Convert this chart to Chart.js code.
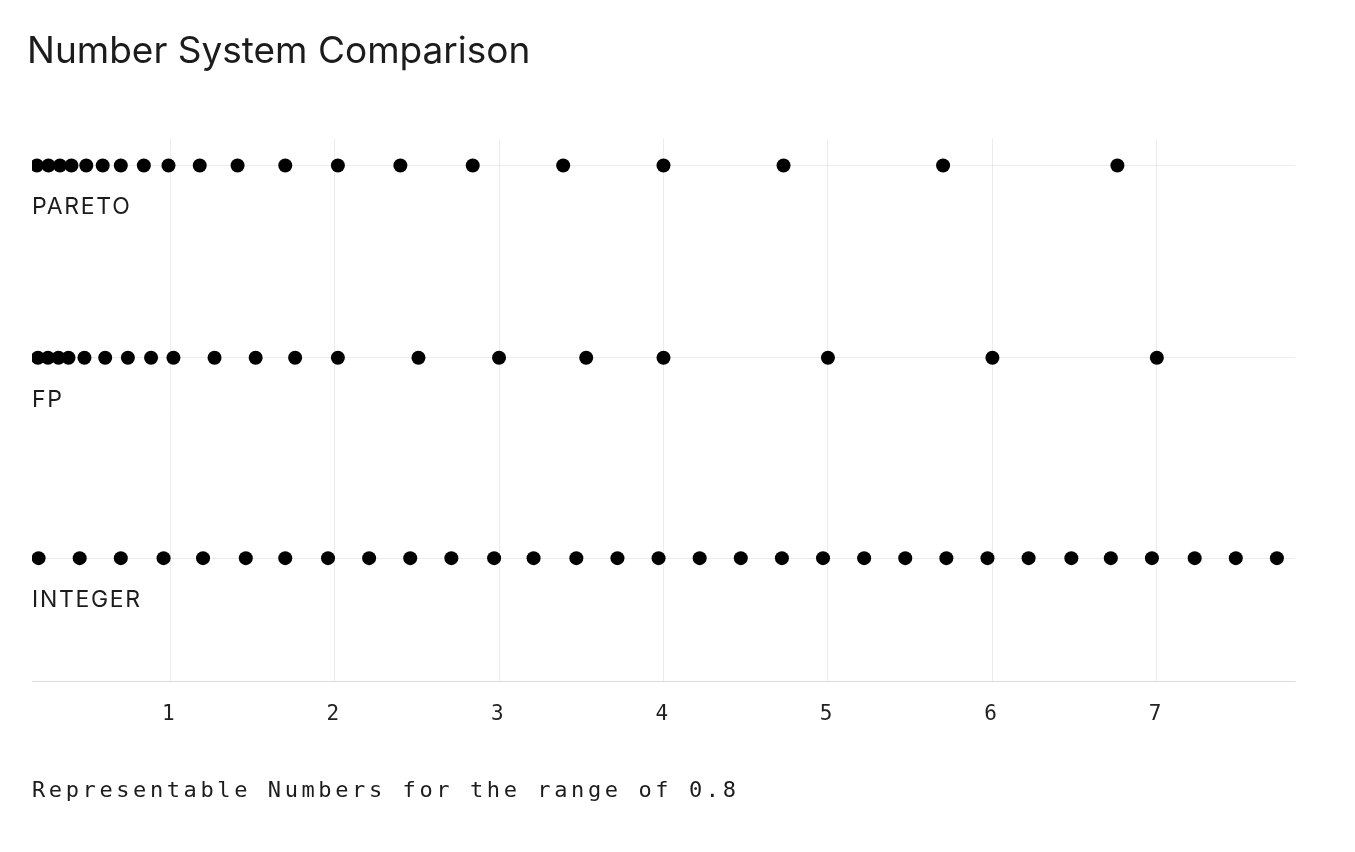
<!DOCTYPE html>
<html>
<head>
<meta charset="utf-8">
<script src="https://cdn.jsdelivr.net/npm/chart.js@4/dist/chart.umd.min.js"></script>
<style>
  body { margin: 0; background: #fff; }
  #wrap { width: 1355px; height: 852px; }
</style>
</head>
<body>
<div id="wrap"><canvas id="myChart"></canvas></div>
<script>
// rows of the chart, top to bottom
var rowNames = ['PARETO', 'FP', 'INTEGER'];
var rowLevels = [0.95, 0.596, 0.227];

// representable numbers
var paretoValues = [0.19, 0.26, 0.33, 0.40, 0.49, 0.59, 0.70, 0.84, 0.99, 1.18, 1.41, 1.70, 2.02, 2.40, 2.84, 3.39, 4.00, 4.73, 5.70, 6.76];
var fpValues = [0.196, 0.257, 0.321, 0.382, 0.479, 0.605, 0.743, 0.884, 1.02, 1.27, 1.52, 1.76, 2.02, 2.51, 3.00, 3.53, 4.00, 5.00, 6.00, 7.00];
var integerValues = [0.20, 0.45, 0.70, 0.96, 1.20, 1.46, 1.70, 1.96, 2.21, 2.46, 2.71, 2.97, 3.21, 3.47, 3.72, 3.97, 4.22, 4.47, 4.72, 4.97, 5.22, 5.47, 5.72, 5.97, 6.22, 6.48, 6.72, 6.97, 7.23, 7.48, 7.73];

var xTicks = [1, 2, 3, 4, 5, 6, 7];
var xMin = 0.16;
var xMax = 7.84;

var titleText = 'Number System Comparison';
var xTitleText = 'Representable Numbers for the range of 0.8';

var seriesValues = [paretoValues, fpValues, integerValues];

function toPoints(values, level) {
    return values.map(v => ({ x: v, y: level }));
}

var gridColor = 'rgba(0,0,0,0.075)';
var monoFont = "'DejaVu Sans Mono', 'Liberation Mono', monospace";
var sansFont = "Inter, 'Noto Sans', sans-serif";

// canvas letterSpacing per axis (the reference text is tracked wide)
// patched before layout so the scale draws through this.draw as one layer
var spacingPlugin = {
    id: 'spacing',
    beforeLayout(chart) {
        var spacing = { x: '3.6px', y: '1.7px' };
        Object.keys(spacing).forEach(id => {
            var s = chart.scales[id];
            if (s && !s._spaced) {
                var orig = s.draw.bind(s);
                s.draw = function(area) {
                    chart.ctx.letterSpacing = spacing[id];
                    orig(area);
                    chart.ctx.letterSpacing = '0px';
                };
                s._spaced = true;
            }
        });
    }
};

var ctx = document.getElementById('myChart').getContext('2d');

var myChart = new Chart(ctx, {
    type: 'scatter',
    data: {
        datasets: seriesValues.map((vals, i) => ({
            label: rowNames[i],
            data: toPoints(vals, rowLevels[i]),
            backgroundColor: '#000',
            borderColor: '#000',
            pointRadius: 7,
            pointHoverRadius: 7,
            borderWidth: 0
        }))
    },
    options: {
        responsive: true,
        maintainAspectRatio: false,
        animation: false,
        events: [],
        layout: { padding: { left: 27, right: 60, top: 0, bottom: 0 } },
        plugins: {
            legend: { display: false },
            tooltip: { enabled: false },
            title: {
                display: true,
                text: titleText,
                align: 'start',
                color: '#1c1c1c',
                font: { family: sansFont, size: 37, weight: 'normal' },
                padding: { top: 30, bottom: 64 }
            }
        },
        scales: {
            x: {
                type: 'linear',
                min: xMin,
                max: xMax,
                afterBuildTicks: scale => {
                    scale.ticks = xTicks.map(v => ({ value: v }));
                },
                grid: { color: gridColor, drawTicks: false },
                border: { display: true, color: gridColor },
                ticks: {
                    padding: 21,
                    color: '#222',
                    font: { family: monoFont, size: 21 },
                    callback: v => String(v)
                },
                title: {
                    display: true,
                    text: xTitleText,
                    align: 'start',
                    color: '#1c1c1c',
                    font: { family: monoFont, size: 22 },
                    padding: { top: 29, bottom: 48 }
                }
            },
            y: {
                type: 'linear',
                min: 0,
                max: 1,
                afterBuildTicks: scale => {
                    scale.ticks = [0].concat(rowLevels).map(v => ({ value: v }));
                },
                afterFit: scale => { scale.width = 5; },
                grid: { color: gridColor, drawTicks: false },
                border: { display: false },
                ticks: {
                    mirror: true,
                    padding: 0,
                    labelOffset: 42,
                    color: '#1c1c1c',
                    font: { family: sansFont, size: 23 },
                    callback: v => {
                        var i = rowLevels.indexOf(v);
                        return i >= 0 ? rowNames[i] : '';
                    }
                }
            }
        }
    },
    plugins: [spacingPlugin]
});
</script>
</body>
</html>
